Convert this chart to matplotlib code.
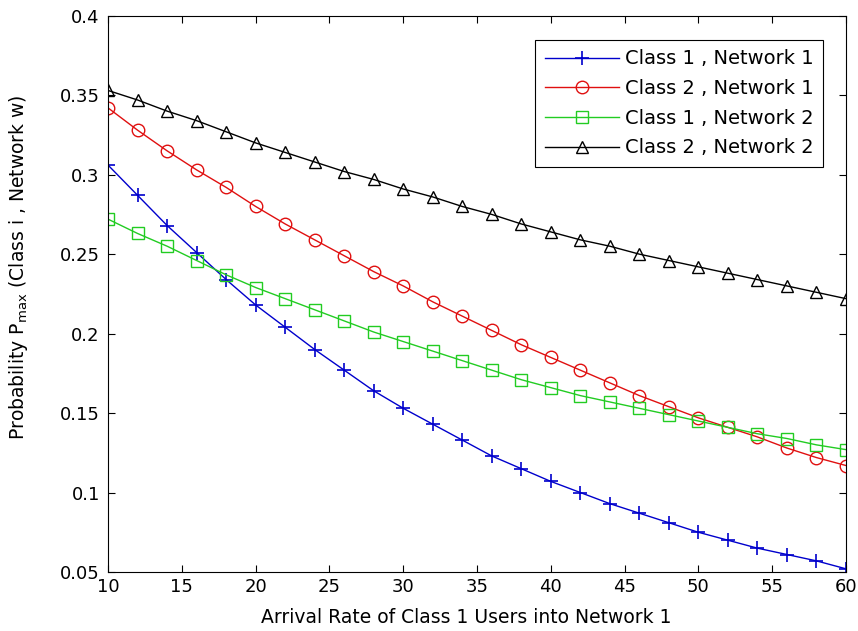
import matplotlib
matplotlib.use("Agg")
import matplotlib.pyplot as plt
import numpy as np

x = list(range(10, 61, 2))
c1n1 = [0.306, 0.287, 0.268, 0.251, 0.234, 0.218, 0.204, 0.190, 0.177, 0.164,
        0.153, 0.143, 0.133, 0.123, 0.115, 0.107, 0.100, 0.093, 0.087, 0.081,
        0.075, 0.070, 0.065, 0.061, 0.057, 0.052]
c2n1 = [0.342, 0.328, 0.315, 0.303, 0.292, 0.280, 0.269, 0.259, 0.249, 0.239,
        0.230, 0.220, 0.211, 0.202, 0.193, 0.185, 0.177, 0.169, 0.161, 0.154,
        0.147, 0.141, 0.135, 0.128, 0.122, 0.117]
c1n2 = [0.272, 0.263, 0.255, 0.246, 0.237, 0.229, 0.222, 0.215, 0.208, 0.201,
        0.195, 0.189, 0.183, 0.177, 0.171, 0.166, 0.161, 0.157, 0.153, 0.149,
        0.145, 0.141, 0.137, 0.134, 0.130, 0.127]
c2n2 = [0.353, 0.347, 0.340, 0.334, 0.327, 0.320, 0.314, 0.308, 0.302, 0.297,
        0.291, 0.286, 0.280, 0.275, 0.269, 0.264, 0.259, 0.255, 0.250, 0.246,
        0.242, 0.238, 0.234, 0.230, 0.226, 0.222]
labels = ["Class 1 , Network 1", "Class 2 , Network 1",
          "Class 1 , Network 2", "Class 2 , Network 2"]
xticks = [10, 15, 20, 25, 30, 35, 40, 45, 50, 55, 60]
yticks = [0.05, 0.1, 0.15, 0.2, 0.25, 0.3, 0.35, 0.4]
ytick_labels = ["0.05", "0.1", "0.15", "0.2", "0.25", "0.3", "0.35", "0.4"]

plt.rcParams['font.family'] = ['DejaVu Sans']
plt.rcParams['mathtext.fontset'] = 'dejavusans'

fig = plt.figure(figsize=(8.58, 6.31), dpi=100)
ax = fig.add_axes([0.126, 0.0935, 0.860, 0.8815])

ax.plot(x, c1n1, color='#0000cc', marker='+', markersize=10, mew=1.2, lw=1, label=labels[0])
ax.plot(x, c2n1, color='#e01010', marker='o', markersize=9, mfc='none', mew=1, lw=1, label=labels[1])
ax.plot(x, c1n2, color='#22cc22', marker='s', markersize=9, mfc='none', mew=1, lw=1, label=labels[2])
ax.plot(x, c2n2, color='black', marker='^', markersize=9, mfc='none', mew=1, lw=1, label=labels[3])

ax.set_xlim(10, 60)
ax.set_ylim(0.05, 0.4)
ax.set_xticks(xticks)
ax.set_yticks(yticks)
ax.set_yticklabels(ytick_labels)
ax.tick_params(direction='in', top=True, right=True, labelsize=13, length=5)
ax.tick_params(axis='x', pad=4)
ax.tick_params(axis='y', pad=6)
ax.set_xlabel("Arrival Rate of Class 1 Users into Network 1", fontsize=13.5)
ax.set_ylabel(r"Probability P$_{\mathrm{max}}$ (Class i , Network w)", fontsize=13.5)
ax.xaxis.set_label_coords(0.486, -0.064)
ax.yaxis.set_label_coords(-0.106, 0.547)

leg = ax.legend(loc='upper right', fontsize=14, fancybox=False, edgecolor='black',
                framealpha=1, bbox_to_anchor=(0.969, 0.957), borderaxespad=0,
                handlelength=3.8, labelspacing=0.55,
                borderpad=0.5, handletextpad=0.3)
leg.get_frame().set_linewidth(0.8)

fig.savefig("out.png", dpi=100)
